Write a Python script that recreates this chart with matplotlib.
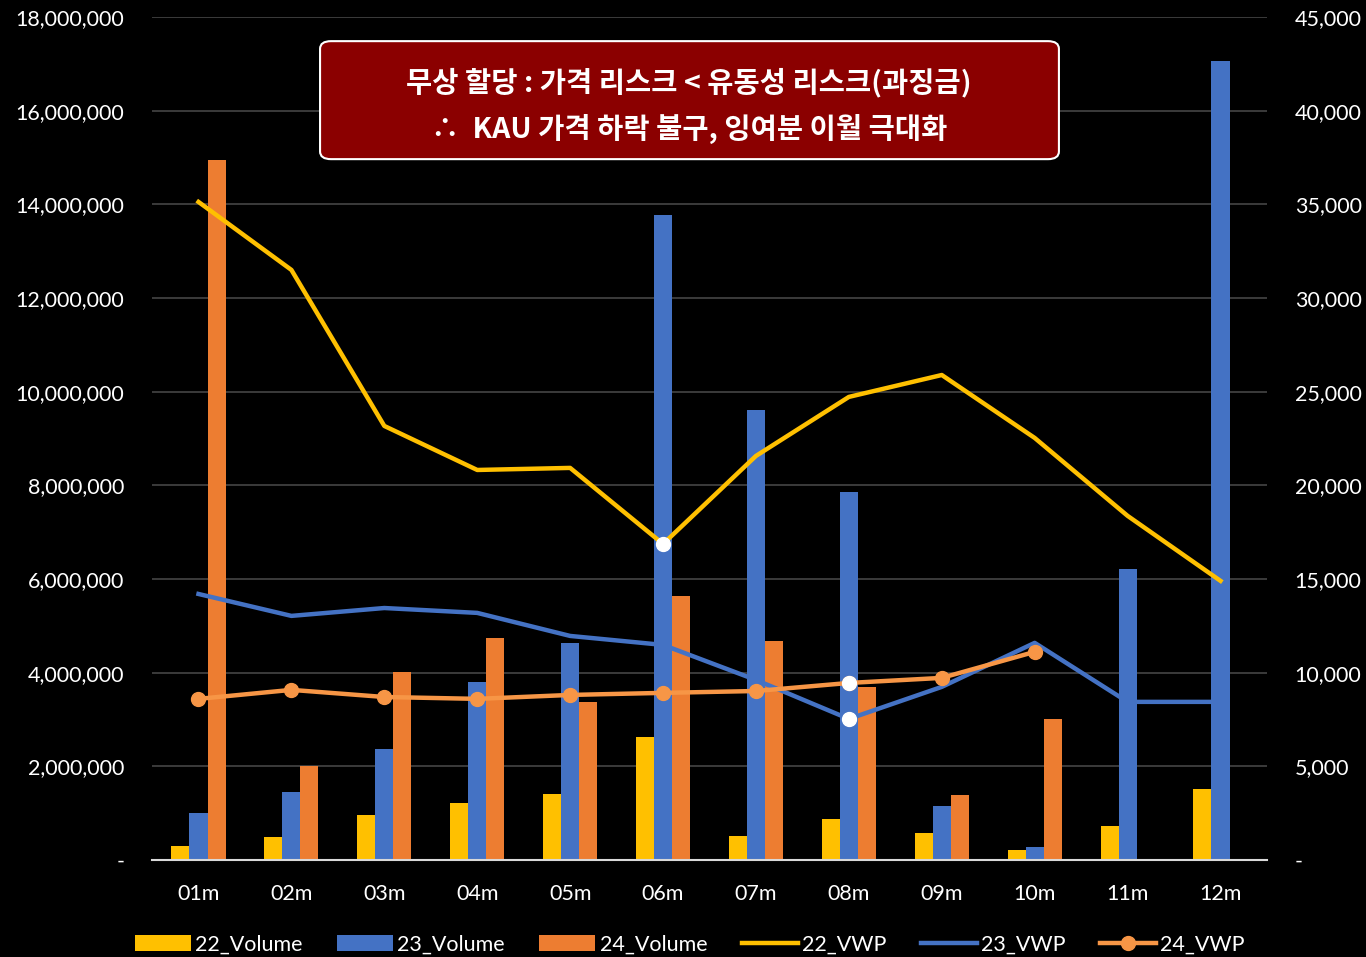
import numpy as np
import matplotlib
matplotlib.use("Agg")
import matplotlib.pyplot as plt
from matplotlib.patches import FancyBboxPatch
from matplotlib.ticker import FuncFormatter, MultipleLocator

plt.rcParams['font.family'] = ['Lato', 'Noto Sans CJK KR', 'DejaVu Sans']

months = ['01m', '02m', '03m', '04m', '05m', '06m', '07m', '08m', '09m', '10m', '11m', '12m']

# monthly volume (left axis)
vol_22 = [0.30e6, 0.50e6, 0.96e6, 1.22e6, 1.41e6, 2.63e6, 0.51e6, 0.88e6, 0.58e6, 0.21e6, 0.73e6, 1.52e6]
vol_23 = [1.00e6, 1.45e6, 2.37e6, 3.80e6, 4.63e6, 13.77e6, 9.60e6, 7.86e6, 1.15e6, 0.28e6, 6.21e6, 17.06e6]
vol_24 = [14.95e6, 2.00e6, 4.02e6, 4.74e6, 3.37e6, 5.64e6, 4.68e6, 3.69e6, 1.39e6, 3.01e6, 0, 0]

# volume weighted price (right axis)
vwp_22 = [35130, 31500, 23170, 20820, 20930, 16870, 21570, 24720, 25890, 22530, 18370, 14900]
vwp_23 = [14200, 13030, 13450, 13190, 11960, 11480, 9610, 7530, 9240, 11590, 8440, 8440]
vwp_24 = [8600, 9080, 8700, 8600, 8810, 8920, 9020, 9450, 9720, 11110, np.nan, np.nan]

# highlighted points (series, month index)
highlights = [('22', 5), ('23', 7), ('24', 7)]

title_lines = ['무상 할당 : 가격 리스크 < 유동성 리스크(과징금)',
               '∴  KAU 가격 하락 불구, 잉여분 이월 극대화']

YEL, BLU, ORG, ORG_L = '#FFC000', '#4472C4', '#ED7D31', '#F79646'

fig = plt.figure(figsize=(13.66, 9.57), dpi=100, facecolor='black')
ax = fig.add_axes([0.1113, 0.1014, 0.8162, 0.8808])
ax.set_facecolor('black')

x = np.arange(len(months))
w = 0.194
ax.bar(x - w, vol_22, w, color=YEL, label='22_Volume', zorder=2)
ax.bar(x, vol_23, w, color=BLU, label='23_Volume', zorder=2)
ax.bar(x + w, vol_24, w, color=ORG, label='24_Volume', zorder=2)

ax.set_xlim(-0.5, len(months) - 0.5)
ax.set_ylim(0, 18e6)
ax.yaxis.set_major_locator(MultipleLocator(2e6))
fmt = FuncFormatter(lambda v, p: '-' if v == 0 else f'{v:,.0f}')
ax.yaxis.set_major_formatter(fmt)
ax.grid(axis='y', color='#404040', lw=1.3, zorder=0)
ax.set_axisbelow(True)
ax.set_xticks(x)
ax.set_xticklabels(months)
ax.tick_params(length=0, colors='white', labelsize=15.5)
ax.tick_params(axis='x', pad=17)
ax.tick_params(axis='y', pad=20)
for s in ['top', 'left', 'right']:
    ax.spines[s].set_visible(False)
ax.spines['bottom'].set_color('#D9D9D9')
ax.spines['bottom'].set_linewidth(1.5)

ax2 = ax.twinx()
ax2.set_ylim(0, 45000)
ax2.yaxis.set_major_locator(MultipleLocator(5000))
ax2.yaxis.set_major_formatter(fmt)
ax2.tick_params(length=0, colors='white', labelsize=15.5, pad=20)
for s in ax2.spines.values():
    s.set_visible(False)

ax2.plot(x, vwp_22, color=YEL, lw=3.2, label='22_VWP', zorder=3)
ax2.plot(x, vwp_23, color=BLU, lw=3.2, label='23_VWP', zorder=3)
ax2.plot(x, vwp_24, color=ORG_L, lw=3.2, marker='o', ms=10, label='24_VWP', zorder=4)

series = {'22': vwp_22, '23': vwp_23, '24': vwp_24}
for key, i in highlights:
    ax2.plot(x[i], series[key][i], 'o', color='white', ms=10, zorder=5)

# annotation box
box = FancyBboxPatch((0.2343, 0.8337), 0.5409, 0.1233, boxstyle='round,pad=0,rounding_size=0.008',
                     transform=fig.transFigure, facecolor='#8B0000', edgecolor='white', lw=1.5, zorder=10)
fig.patches.append(box)
fig.text(0.5044, 0.9143, title_lines[0], color='white', fontsize=20.5, fontweight='bold',
         ha='center', va='center', family=['Noto Sans CJK KR', 'DejaVu Sans'], zorder=11)
fig.text(0.5044, 0.8652, title_lines[1], color='white', fontsize=20.5, fontweight='bold',
         ha='center', va='center', family=['Noto Sans CJK KR', 'DejaVu Sans'], zorder=11)

h1, l1 = ax.get_legend_handles_labels()
h2, l2 = ax2.get_legend_handles_labels()
leg = fig.legend(h1 + h2, l1 + l2, loc='center', bbox_to_anchor=(0.505, 0.013), ncol=6,
                 frameon=False, fontsize=15.5, handlelength=2.6, handleheight=0.75,
                 columnspacing=1.6, handletextpad=0.2)
for t in leg.get_texts():
    t.set_color('white')

fig.savefig('out.png', dpi=100, facecolor='black')
